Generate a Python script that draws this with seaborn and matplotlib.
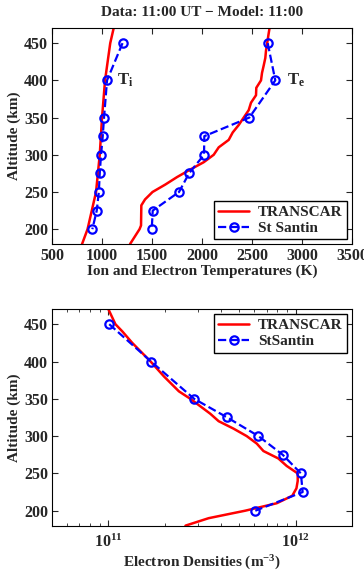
import pandas as pd
import matplotlib
import matplotlib.pyplot as plt
import numpy as np
import seaborn as sns

sns.set_style("ticks")
plt.rcParams["font.family"] = ["Liberation Serif", "DejaVu Serif"]
plt.rcParams["font.weight"] = "bold"
plt.rcParams["axes.labelweight"] = "bold"
plt.rcParams["axes.titleweight"] = "bold"
plt.rcParams["mathtext.fontset"] = "custom"
plt.rcParams["mathtext.rm"] = "Liberation Serif:bold"
plt.rcParams["mathtext.bf"] = "Liberation Serif:bold"
plt.rcParams["mathtext.it"] = "Liberation Serif:bold"
plt.rcParams["mathtext.default"] = "bf"

red = "#ff0000"
blue = "#0000ff"

# St Santin radar data (markers)
alt_data = [450, 400, 350, 325, 300, 275, 250, 225, 200]
ti_data = [1205, 1050, 1020, 1007, 990, 977, 968, 947, 903]
te_data = [2657, 2733, 2473, 2023, 2020, 1870, 1770, 1507, 1497]
ne_data = [1.01e11, 1.69e11, 2.87e11, 4.31e11, 6.33e11, 8.53e11, 1.067e12, 1.09e12, 6.09e11]

# TRANSCAR model profiles
alt_ti_model = [180, 200, 250, 300, 350, 400, 450, 470]
ti_model = [800, 855, 940, 977, 1000, 1030, 1082, 1116]

alt_te_model = [180, 200, 205, 232, 240, 250, 260, 270, 280, 290, 300, 310, 320, 330, 340,
                350, 360, 370, 380, 390, 400, 410, 420, 430, 440, 450, 460, 470]
te_model = [1280, 1375, 1390, 1393, 1430, 1505, 1633, 1750, 1880, 2017, 2117, 2167, 2267, 2307,
            2367, 2417, 2467, 2490, 2540, 2543, 2590, 2600, 2617, 2633, 2640, 2652, 2663, 2675]

alt_ne_model = [180, 190, 195, 200, 210, 220, 230, 240, 250, 260, 270, 280, 290, 300, 310,
                320, 330, 350, 360, 380, 400, 425, 440, 450, 470]
ne_model = [2.58e11, 3.43e11, 4.29e11, 5.37e11, 7.92e11, 9.59e11, 1.01e12, 1.026e12, 1.026e12,
            8.96e11, 8.09e11, 6.73e11, 6.20e11, 5.48e11, 4.66e11, 3.88e11, 3.50e11, 2.74e11,
            2.38e11, 1.98e11, 1.68e11, 1.34e11, 1.19e11, 1.09e11, 1.0e11]

fig = plt.figure(figsize=(3.64, 5.77), dpi=100)
ax1 = fig.add_axes([0.143, 0.577, 0.824, 0.374])
ax2 = fig.add_axes([0.143, 0.089, 0.824, 0.375])

line_kw = dict(color=red, linewidth=1.8, sort=False, estimator=None)
data_kw = dict(color=blue, linewidth=1.6, linestyle="--", marker="o", markersize=6,
               markerfacecolor="none", markeredgecolor=blue, markeredgewidth=1.6,
               sort=False, estimator=None)
leg_kw = dict(fontsize=11, fancybox=False, edgecolor="black", framealpha=1,
              handlelength=2.0, borderaxespad=0.3, labelspacing=0.15, borderpad=0.3,
              handletextpad=0.6)

# top panel: temperatures
sns.lineplot(x=ti_model, y=alt_ti_model, ax=ax1, label="TRANSCAR", **line_kw)
sns.lineplot(x=te_model, y=alt_te_model, ax=ax1, **line_kw)
sns.lineplot(x=ti_data, y=alt_data, ax=ax1, label="St Santin", **data_kw)
sns.lineplot(x=te_data, y=alt_data, ax=ax1, **data_kw)
ax1.set_xlim(500, 3500)
ax1.set_ylim(180, 470)
ax1.set_xticks([500, 1000, 1500, 2000, 2500, 3000, 3500])
ax1.set_yticks([200, 250, 300, 350, 400, 450])
ax1.set_xlabel("Ion and Electron Temperatures (K)", fontsize=11, labelpad=0)
ax1.set_ylabel("Altitude (km)", fontsize=11, labelpad=2)
ax1.set_title("Data: 11:00 UT \u2212 Model: 11:00", fontsize=11, pad=9)
ax1.text(1150, 400, r"$\mathbf{T_i}$", fontsize=12, va="center")
ax1.text(2850, 400, r"$\mathbf{T_e}$", fontsize=12, va="center")
ax1.legend(loc="lower right", **leg_kw)

# bottom panel: electron density
sns.lineplot(x=ne_model, y=alt_ne_model, ax=ax2, label="TRANSCAR", **line_kw)
sns.lineplot(x=ne_data, y=alt_data, ax=ax2, label="StSantin", **data_kw)
ax2.set_xscale("log")
ax2.set_xlim(5e10, 2e12)
ax2.set_ylim(180, 470)
ax2.set_yticks([200, 250, 300, 350, 400, 450])
ax2.set_xlabel("Electron Densities (m$^{-3}$)", fontsize=11, labelpad=2)
ax2.set_ylabel("Altitude (km)", fontsize=11, labelpad=2)
ax2.legend(loc="upper right", **leg_kw)

for ax in (ax1, ax2):
    ax.tick_params(which="both", direction="in", top=True, right=True, labelsize=11.5)
    ax.tick_params(which="major", length=4, width=0.8, pad=3)
    ax.tick_params(which="minor", length=2, width=0.6)
    for s in ax.spines.values():
        s.set_linewidth(0.8)
        s.set_color("black")
    for t in ax.get_xticklabels() + ax.get_yticklabels():
        t.set_fontweight("bold")
ax2.tick_params(axis="x", which="major", pad=6)

fig.savefig("out.png", dpi=100, facecolor="white")
